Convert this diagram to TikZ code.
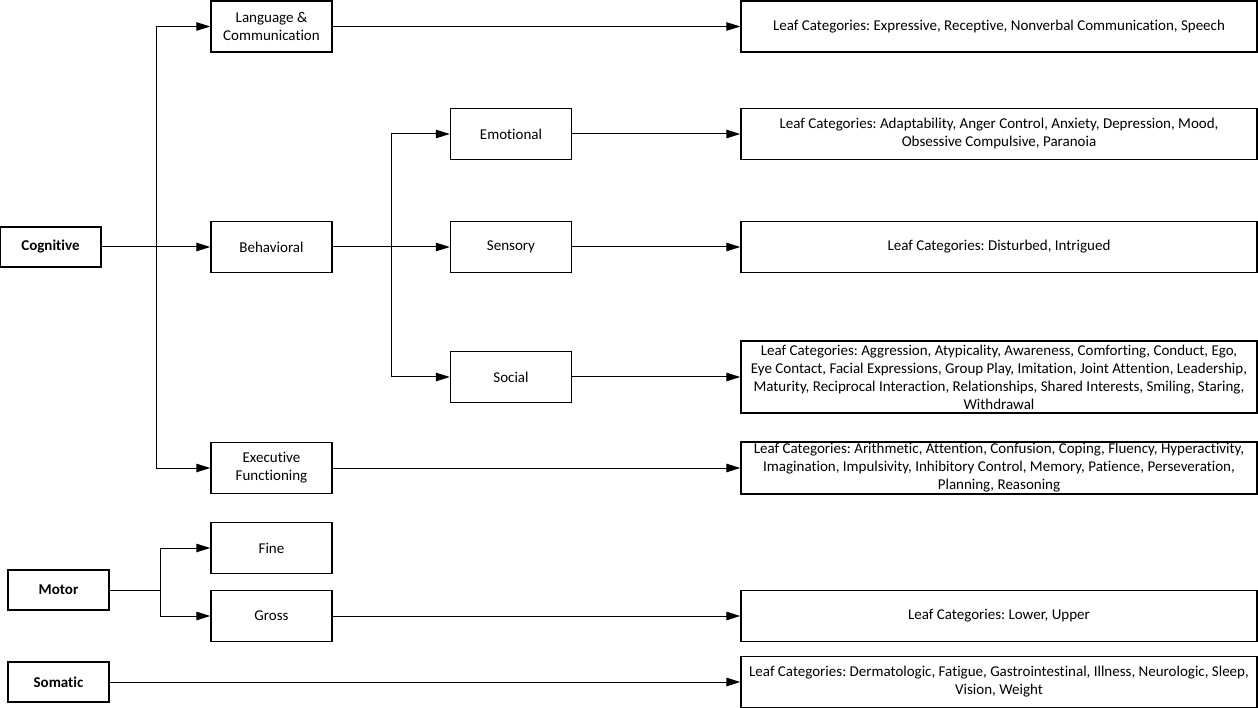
\documentclass[tikz,border=0pt]{standalone}
\usepackage{fontspec}
\setmainfont{Carlito}[RawFeature={-liga}]
\usetikzlibrary{arrows.meta}
\frenchspacing
\begin{document}
\begin{tikzpicture}[x=1pt,y=-1pt,
  box/.style={draw,line width=1.4pt,inner sep=0pt,align=center,font=\fontsize{15}{18}\selectfont},
  midbox/.style={box,minimum width=121pt,minimum height=51pt},
  rootbox/.style={box,minimum width=101pt,minimum height=40pt,font=\fontsize{15}{18}\selectfont\bfseries},
  leafbox/.style={box,minimum width=516pt,minimum height=51pt},
  conn/.style={line width=1pt},
  arr/.style={conn,-{Triangle[length=14pt,width=8.5pt]}}]
\useasboundingbox (0,0) rectangle (1258,708);
% roots
\node[rootbox] (cog) at (50.5,247) {Cognitive};
\node[rootbox] (mot) at (58.5,590) {Motor};
\node[rootbox] (som) at (58.5,682) {Somatic};
% second level
\node[midbox] (lang) at (271.5,26.5) {Language \&\\Communication};
\node[midbox] (beh) at (271.5,247) {Behavioral};
\node[midbox] (exe) at (271.5,468) {Executive\\Functioning};
\node[midbox] (fine) at (271.5,548) {Fine};
\node[midbox] (gross) at (271.5,616) {Gross};
% third level
\node[midbox] (emo) at (511,134) {Emotional};
\node[midbox] (sens) at (511,247) {Sensory};
\node[midbox] (soc) at (511,377) {Social};
% leaves
\node[leafbox] (lLang) at (999,26.5) {Leaf Categories: Expressive, Receptive, Nonverbal Communication, Speech};
\node[leafbox] (lEmo) at (999,134) {Leaf Categories: Adaptability, Anger Control, Anxiety, Depression, Mood,\\Obsessive Compulsive, Paranoia};
\node[leafbox] (lSens) at (999,247) {Leaf Categories: Disturbed, Intrigued};
\node[leafbox,minimum height=72pt] (lSoc) at (999,377) {Leaf Categories: Aggression, Atypicality, Awareness, Comforting, Conduct, Ego,\\Eye Contact, Facial Expressions, Group Play, Imitation, Joint Attention, Leadership,\\Maturity, Reciprocal Interaction, Relationships, Shared Interests, Smiling, Staring,\\Withdrawal};
\node[leafbox,minimum height=52pt] (lExe) at (999,468) {Leaf Categories: Arithmetic, Attention, Confusion, Coping, Fluency, Hyperactivity,\\Imagination, Impulsivity, Inhibitory Control, Memory, Patience, Perseveration,\\Planning, Reasoning};
\node[leafbox] (lGross) at (999,616) {Leaf Categories: Lower, Upper};
\node[leafbox] (lSom) at (999,682) {Leaf Categories: Dermatologic, Fatigue, Gastrointestinal, Illness, Neurologic, Sleep,\\Vision, Weight};
% junctions
\coordinate (j1) at (156,247);
\coordinate (j2) at (391,247);
\coordinate (j3) at (160,590);
% connectors
\draw[arr] (cog.east) -- (beh.west);
\draw[arr] (j1) |- (lang.west);
\draw[arr] (j1) |- (exe.west);
\draw[arr] (beh.east) -- (sens.west);
\draw[arr] (j2) |- (emo.west);
\draw[arr] (j2) |- (soc.west);
\draw[conn] (mot.east) -- (j3);
\draw[arr] (j3) |- (fine.west);
\draw[arr] (j3) |- (gross.west);
\draw[arr] (lang.east) -- (lLang.west);
\draw[arr] (emo.east) -- (lEmo.west);
\draw[arr] (sens.east) -- (lSens.west);
\draw[arr] (soc.east) -- (lSoc.west);
\draw[arr] (exe.east) -- (lExe.west);
\draw[arr] (gross.east) -- (lGross.west);
\draw[arr] (som.east) -- (lSom.west);
\end{tikzpicture}
\end{document}
